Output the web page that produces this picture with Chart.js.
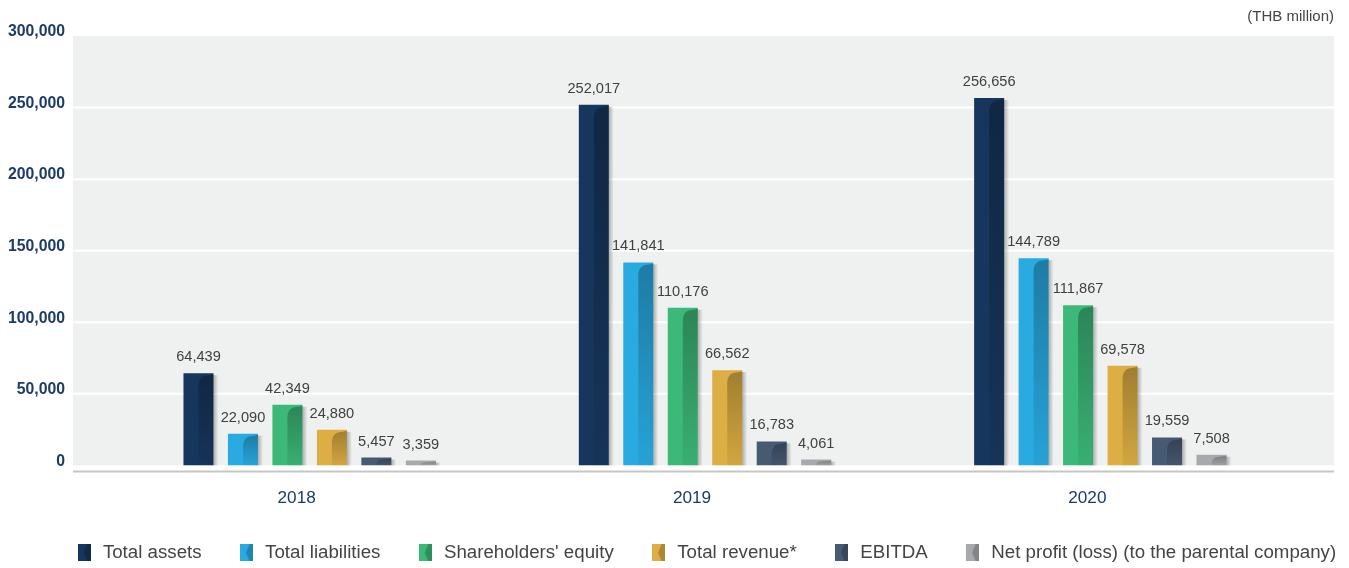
<!DOCTYPE html>
<html>
<head>
<meta charset="utf-8">
<script src="https://cdn.jsdelivr.net/npm/chart.js@4/dist/chart.umd.min.js"></script>
<style>
  body { margin: 0; background: #fff; }
  canvas { display: block; }
</style>
</head>
<body>
<canvas id="myChart" width="1349" height="568"></canvas>
<script>
var years = ['2018', '2019', '2020'];
var totalAssets = [64439, 252017, 256656];
var totalLiabilities = [22090, 141841, 144789];
var shareholdersEquity = [42349, 110176, 111867];
var totalRevenue = [24880, 66562, 69578];
var ebitda = [5457, 16783, 19559];
var netProfit = [3359, 4061, 7508];

var seriesNames = ['Total assets', 'Total liabilities', "Shareholders' equity", 'Total revenue*', 'EBITDA', 'Net profit (loss) (to the parental company)'];
var seriesColors = ['#17365d', '#29abe2', '#3cb878', '#ddae43', '#475a73', '#a7a9ac'];
var unitLabel = '(THB million)';

var FONT = "'Liberation Sans', Arial, Helvetica, sans-serif";
var NAVY = '#1c3b68';

// little legend swatch: coloured block with a darker notch
function makeIcon(color) {
    var c = document.createElement('canvas');
    c.width = 13;
    c.height = 17;
    var g = c.getContext('2d');
    g.fillStyle = color;
    g.fillRect(0, 0, 13, 17);
    g.fillStyle = 'rgba(0,0,0,0.22)';
    g.beginPath();
    g.moveTo(6, 8.5);
    g.lineTo(9.5, 0);
    g.lineTo(13, 0);
    g.lineTo(13, 17);
    g.lineTo(9.5, 17);
    g.closePath();
    g.fill();
    return c;
}
var legendIcons = seriesColors.map(makeIcon);

// grey plot background, white grid lines, bottom axis line, unit note
var backdrop = {
    id: 'backdrop',
    beforeDraw: function (chart) {
        var ctx = chart.ctx, a = chart.chartArea, y = chart.scales.y;
        var left = a.left - 39, right = a.right + 36;
        var top = y.getPixelForValue(y.max), bottom = y.getPixelForValue(0);
        ctx.save();
        ctx.fillStyle = '#eff0f0';
        ctx.fillRect(left, top, right - left, bottom - top);
        ctx.strokeStyle = '#ffffff';
        ctx.lineWidth = 2;
        y.ticks.forEach(function (t) {
            if (t.value === 0 || t.value === y.max) return;
            var py = y.getPixelForValue(t.value);
            ctx.beginPath();
            ctx.moveTo(left, py);
            ctx.lineTo(right, py);
            ctx.stroke();
        });
        ctx.strokeStyle = '#c6c6c6';
        ctx.beginPath();
        ctx.moveTo(left, bottom + 6);
        ctx.lineTo(right, bottom + 6);
        ctx.stroke();
        ctx.fillStyle = '#444';
        ctx.font = '15px ' + FONT;
        ctx.textAlign = 'right';
        ctx.textBaseline = 'middle';
        ctx.fillText(unitLabel, right, 17);
        ctx.restore();
    }
};

// curl shading, side shadow and value labels on every bar
var barDecor = {
    id: 'barDecor',
    afterDatasetsDraw: function (chart) {
        var ctx = chart.ctx;
        ctx.save();
        chart.data.datasets.forEach(function (ds, di) {
            var meta = chart.getDatasetMeta(di);
            meta.data.forEach(function (bar, i) {
                var p = bar.getProps(['x', 'y', 'base', 'width'], true);
                var left = p.x - p.width / 2, right = p.x + p.width / 2;
                var top = p.y, base = p.base, h = base - top;

                var sh = ctx.createLinearGradient(right, 0, right + 5, 0);
                sh.addColorStop(0, 'rgba(0,0,0,0.28)');
                sh.addColorStop(1, 'rgba(0,0,0,0)');
                ctx.fillStyle = sh;
                ctx.fillRect(right, top + 2, 5, h - 2);

                var mx = left + p.width * 0.5;
                var r = Math.min(11, h * 0.7);
                var dk = ctx.createLinearGradient(0, top, 0, base);
                dk.addColorStop(0, 'rgba(0,0,0,0.28)');
                dk.addColorStop(1, 'rgba(0,0,0,0.05)');
                ctx.fillStyle = dk;
                ctx.beginPath();
                ctx.moveTo(mx, base);
                ctx.lineTo(mx, top + 2 + r);
                ctx.quadraticCurveTo(mx, top + 2, mx + r, top + 2);
                ctx.lineTo(right, top + 1);
                ctx.lineTo(right, base);
                ctx.closePath();
                ctx.fill();

                ctx.fillStyle = '#404040';
                ctx.font = '14.6px ' + FONT;
                ctx.textAlign = 'center';
                ctx.textBaseline = 'middle';
                ctx.fillText(ds.data[i].toLocaleString('en-US'), p.x, top - 16);
            });
        });
        ctx.restore();
    }
};

var allSeries = [totalAssets, totalLiabilities, shareholdersEquity, totalRevenue, ebitda, netProfit];

var canvas = document.getElementById('myChart');
var myChart = new Chart(canvas.getContext('2d'), {
    type: 'bar',
    data: {
        labels: years,
        datasets: allSeries.map(function (vals, i) {
            return {
                label: seriesNames[i],
                data: vals,
                backgroundColor: seriesColors[i],
                borderWidth: 0,
                categoryPercentage: 0.675,
                barPercentage: 0.675
            };
        })
    },
    options: {
        responsive: false,
        animation: false,
        devicePixelRatio: 1,
        layout: { padding: { left: 0, right: -62, top: 36, bottom: -4 } },
        plugins: {
            title: { display: false },
            tooltip: { enabled: false },
            legend: {
                position: 'bottom',
                align: 'center',
                labels: {
                    usePointStyle: true,
                    boxWidth: 20,
                    boxHeight: 17,
                    padding: 35.5,
                    color: '#444',
                    font: { family: FONT, size: 18.7 },
                    generateLabels: function (chart) {
                        var items = Chart.defaults.plugins.legend.labels.generateLabels(chart);
                        items.forEach(function (it, i) { it.pointStyle = legendIcons[i]; });
                        return items;
                    }
                }
            }
        },
        scales: {
            x: {
                offset: true,
                grid: { display: false, drawTicks: false },
                border: { display: false },
                ticks: {
                    color: NAVY,
                    font: { family: FONT, size: 17.2 },
                    padding: 22.2,
                    labelOffset: -13
                },
                afterFit: function (s) { s.height = 42.4; }
            },
            y: {
                min: 0,
                max: 300000,
                grid: { display: false, drawTicks: false },
                border: { display: false },
                ticks: {
                    stepSize: 50000,
                    padding: 47,
                    labelOffset: -4,
                    color: NAVY,
                    font: { family: FONT, size: 15.8, weight: 'bold' },
                    callback: function (v) { return v.toLocaleString('en-US'); }
                },
                afterFit: function (s) {
                    s.width = 112;
                    s.paddingTop = 0;
                    s.paddingBottom = 0;
                }
            },
            yR: {
                position: 'right',
                display: true,
                grid: { display: false, drawTicks: false },
                border: { display: false },
                ticks: { display: false },
                afterFit: function (s) { s.width = 113; }
            }
        }
    },
    plugins: [backdrop, barDecor]
});
</script>
</body>
</html>
